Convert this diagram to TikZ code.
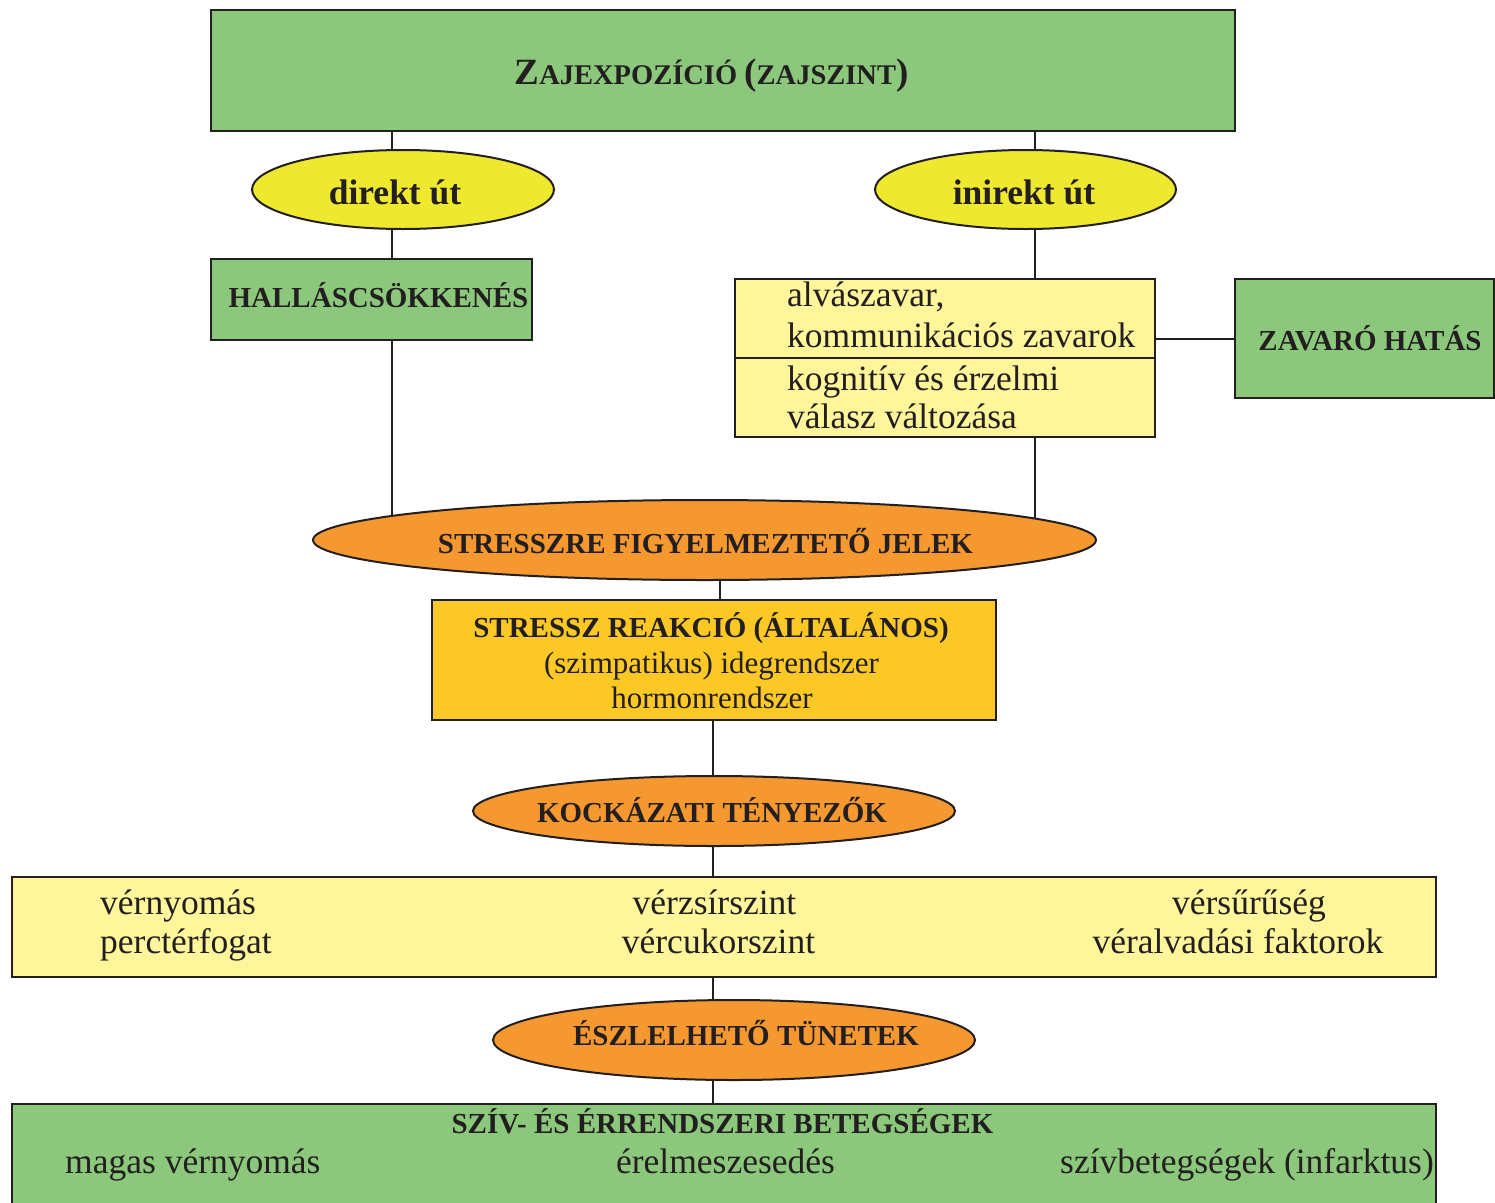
\documentclass[tikz,border=0pt]{standalone}
\usepackage{fontspec}
\setmainfont{Liberation Serif}
\usetikzlibrary{shapes.geometric}
\pgfdeclarelayer{bg}
\pgfsetlayers{bg,main}
\definecolor{gr}{RGB}{140,200,124}
\definecolor{yl}{RGB}{238,232,46}
\definecolor{ly}{RGB}{255,245,155}
\definecolor{og}{RGB}{246,152,48}
\definecolor{gd}{RGB}{252,200,38}
\definecolor{ink}{RGB}{35,31,32}
\tikzset{
  box/.style={draw=ink, line width=2pt, rectangle, inner sep=0pt},
  oval/.style={draw=ink, line width=2pt, ellipse, inner sep=0pt},
  conn/.style={draw=ink, line width=1.5pt},
  bl/.style={anchor=base, text=ink, inner sep=0pt, font=\bfseries\fontsize{29}{34}\selectfont},
  bb/.style={anchor=base, text=ink, inner sep=0pt, font=\bfseries\fontsize{35.5}{40}\selectfont},
  rg/.style={anchor=base, text=ink, inner sep=0pt, font=\fontsize{35.5}{40}\selectfont},
  rs/.style={anchor=base, text=ink, inner sep=0pt, font=\fontsize{31}{36}\selectfont},
}
\begin{document}
\begin{tikzpicture}[x=1pt,y=-1pt]
\useasboundingbox (0,0) rectangle (1495,1202);
% shapes
\node[box, fill=gr, minimum width=1024pt, minimum height=121pt] (top) at (723,70.5) {};
\node[oval, fill=yl, minimum width=302pt, minimum height=79pt] (direkt) at (403,189.5) {};
\node[oval, fill=yl, minimum width=301pt, minimum height=79pt] (inirekt) at (1025.5,189.5) {};
\node[box, fill=gr, minimum width=321pt, minimum height=81pt] (hal) at (371.5,299.5) {};
\node[box, fill=ly, minimum width=420pt, minimum height=158pt] (yb) at (945,358) {};
\node[box, fill=gr, minimum width=259pt, minimum height=119pt] (zav) at (1364.5,338.5) {};
\node[oval, fill=og, minimum width=783pt, minimum height=80pt] (stress) at (704.5,540) {};
\node[box, fill=gd, minimum width=564pt, minimum height=120pt] (gold) at (714,660) {};
\node[oval, fill=og, minimum width=482pt, minimum height=70pt] (kock) at (714,811) {};
\node[box, fill=ly, minimum width=1424pt, minimum height=100pt] (yb2) at (724,927) {};
\node[oval, fill=og, minimum width=482pt, minimum height=80pt] (eszl) at (734,1040) {};
\node[box, fill=gr, minimum width=1424pt, minimum height=104pt] (gb2) at (724,1156) {};
\draw[conn, line width=2pt] (yb.west) -- (yb.east);
% connectors
\coordinate (xL) at (392,0);
\coordinate (xR) at (1035,0);
\coordinate (xM) at (720,0);
\coordinate (xN) at (713,0);
\begin{pgfonlayer}{bg}
\draw[conn] (top.center -| xL) -- (direkt.center -| xL);
\draw[conn] (direkt.center -| xL) -- (hal.center -| xL);
\draw[conn] (hal.center -| xL) -- (stress.center -| xL);
\draw[conn] (top.center -| xR) -- (inirekt.center -| xR);
\draw[conn] (inirekt.center -| xR) -- (yb.center -| xR);
\draw[conn] (yb.center -| xR) -- (stress.center -| xR);
\draw[conn, line width=2pt] (zav.west -| yb.east) -- (zav.west);
\draw[conn] (stress.center -| xM) -- (gold.center -| xM);
\draw[conn] (gold.center -| xN) -- (kock.center -| xN);
\draw[conn] (kock.center -| xN) -- (yb2.center -| xN);
\draw[conn] (yb2.center -| xN) -- (eszl.center -| xN);
\draw[conn] (eszl.center -| xN) -- (gb2.center -| xN);
\end{pgfonlayer}
% texts
\node[anchor=base, text=ink, inner sep=0pt, font=\bfseries] (ttop) at (711.5,84)
  {{\fontsize{37}{40}\selectfont Z}{\fontsize{28.5}{40}\selectfont AJEXPOZÍCIÓ }{\fontsize{37}{40}\selectfont (}{\fontsize{28.5}{40}\selectfont ZAJSZINT}{\fontsize{37}{40}\selectfont )}};
\node[bb] (tdir) at (395,204) {direkt út};
\node[bb] (tinir) at (1024,204) {inirekt út};
\node[bl] (thal) at (378.5,307) {HALLÁSCSÖKKENÉS};
\node[rg, anchor=base west] (ty1) at (787,306) {alvászavar,};
\node[rg, anchor=base west] (ty2) at (787,347) {kommunikációs zavarok};
\node[rg, anchor=base west] (ty3) at (787,390) {kognitív és érzelmi};
\node[rg, anchor=base west] (ty4) at (787,428) {válasz változása};
\node[bl] (tzav) at (1370,350) {ZAVARÓ HATÁS};
\node[bl] (tstr) at (705.5,553) {STRESSZRE FIGYELMEZTETŐ JELEK};
\node[bl] (tg1) at (711,637) {STRESSZ REAKCIÓ (ÁLTALÁNOS)};
\node[rs] (tg2) at (711.5,673) {(szimpatikus) idegrendszer};
\node[rs] (tg3) at (712,708) {hormonrendszer};
\node[bl] (tkock) at (712,822) {KOCKÁZATI TÉNYEZŐK};
\node[rg, anchor=base west] (tv1) at (100,914) {vérnyomás};
\node[rg, anchor=base west] (tv2) at (100,953) {perctérfogat};
\node[rg] (tv3) at (714.5,914) {vérzsírszint};
\node[rg] (tv4) at (718.5,953) {vércukorszint};
\node[rg] (tv5) at (1249,914) {vérsűrűség};
\node[rg] (tv6) at (1238,953) {véralvadási faktorok};
\node[bl] (teszl) at (746,1045) {ÉSZLELHETŐ TÜNETEK};
\node[bl] (tsz) at (722.5,1133) {SZÍV- ÉS ÉRRENDSZERI BETEGSÉGEK};
\node[rg, anchor=base west] (tb1) at (65,1173) {magas vérnyomás};
\node[rg] (tb2) at (725.5,1173) {érelmeszesedés};
\node[rg, anchor=base east] (tb3) at (1434,1173) {szívbetegségek (infarktus)};
\end{tikzpicture}
\end{document}
